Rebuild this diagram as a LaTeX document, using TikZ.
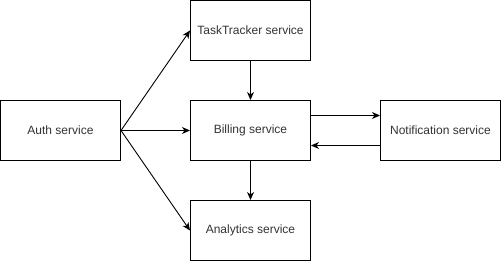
\documentclass[tikz,border=0pt]{standalone}
\usepackage{fontspec}
\setmainfont{Liberation Sans}
\usetikzlibrary{arrows.meta}
\begin{document}
\begin{tikzpicture}[x=1pt,y=-1pt,
  svc/.style={draw=black,line width=1pt,fill=white,minimum width=120pt,minimum height=60pt,
    inner sep=0pt,font=\fontsize{12pt}{14pt}\selectfont,text=black!80},
  link/.style={line width=0.9pt,-{Stealth[length=8pt,width=7pt,inset=2.5pt]}}]
  \useasboundingbox (0,0) rectangle (501,261);
  \node[svc] (auth) at (60.5,130.5) {Auth service};
  \node[svc] (task) at (250.5,30.5) {TaskTracker service};
  \node[svc] (bill) at (250.5,130.5) {Billing service};
  \node[svc] (notif) at (440.5,130.5) {Notification service};
  \node[svc] (anal) at (250.5,230.5) {Analytics service};
  \draw[link] (auth.east) -- (task.west);
  \draw[link] (auth.east) -- (bill.west);
  \draw[link] (auth.east) -- (anal.west);
  \draw[link] (task.south) -- (bill.north);
  \draw[link] (bill.south) -- (anal.north);
  % upper line: billing to notification, lower line: back
  \draw[link] ([yshift=15pt]bill.east) -- ([yshift=15pt]notif.west);
  \draw[link] ([yshift=-15pt]notif.west) -- ([yshift=-15pt]bill.east);
\end{tikzpicture}
\end{document}
